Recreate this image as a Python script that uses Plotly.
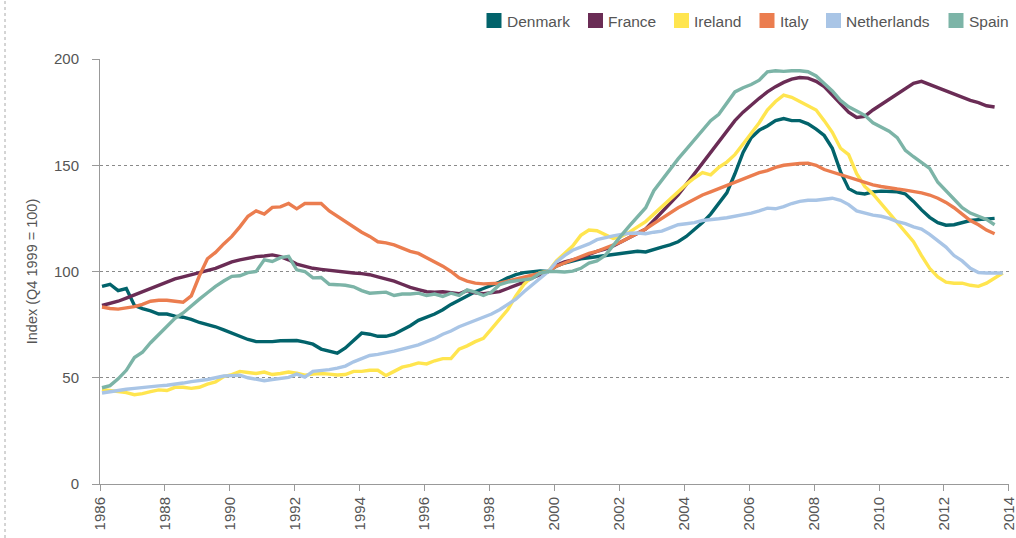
import pandas as pd
import plotly.graph_objects as go

# Quarterly house price index, Q4 1999 = 100 (1986Q1 onwards)
first_quarter = "1986Q1"

denmark = [93, 94, 91, 92,
           84, 82.5, 81.5, 80,
           80, 79, 78.5, 77.5,
           76, 75, 74, 72.5,
           71, 69.5, 68, 67,
           66.8, 67, 67.4, 67.5,
           67.5, 66.8, 65.8, 63.5,
           62.5, 61.6, 64, 67.5,
           71, 70.5, 69.5, 69.5,
           70.5, 72.5, 74.5, 77,
           78.5, 80, 82, 84.5,
           86.5, 88.5, 90.5, 92,
           93.5, 95, 97, 98.5,
           99.5, 100, 100.3, 100,
           102.5, 104, 105, 106,
           106.5, 107, 107.5, 108,
           108.5, 109, 109.5, 109.2,
           110.5, 111.5, 112.5, 114,
           116.5, 119.5, 123, 127,
           132, 137, 146, 156,
           163, 166.5, 168.5, 171,
           172, 171, 171, 169.5,
           167, 164, 158, 147,
           139, 137, 136.5, 137.5,
           137.8, 137.8, 137.5, 136.5,
           133, 129, 125.5, 123,
           121.8, 122, 123, 124,
           124.4, 124.5, 125]

france = [84, 85, 86, 87.5,
          89, 90.5, 92, 93.5,
          95, 96.5, 97.5, 98.5,
          99.5, 100.5, 101.5, 103,
          104.5, 105.5, 106.3, 107,
          107.3, 107.8, 107, 105.5,
          103.5, 102.5, 101.5, 101,
          100.5, 100, 99.5, 99.3,
          99, 98.5, 97.5, 96.5,
          95.5, 94, 92.5, 91.5,
          90.5, 90.3, 90.5, 90,
          89.5, 91, 90, 89.5,
          90, 90.5, 92, 93.5,
          95, 97, 98.5, 100,
          103, 104.5, 105.5, 106.5,
          108, 109.5, 110.5, 112,
          114, 116, 118, 120,
          124, 128, 132, 136,
          141, 146, 151, 156,
          161, 166, 171, 175,
          178.5, 181.5, 184.5, 187,
          189, 190.5, 191.3, 191,
          189.5, 187, 183, 179,
          175, 172.5, 173, 176,
          178.5, 181, 183.5, 186,
          188.5, 189.5, 188, 186.5,
          185, 183.5, 182, 180.5,
          179.5, 178, 177.4]

ireland = [44.5, 44, 43.5, 43,
           42, 42.5, 43.5, 44.3,
           44, 45.5, 45.5, 45,
           45.5, 47, 48, 50.5,
           51.5, 53, 52.5, 52,
           52.7, 51.5, 52, 52.7,
           52.2, 51.2, 51.7, 52,
           51.7, 51.3, 51.5, 53,
           53, 53.5, 53.5, 51,
           53, 55, 55.8, 57,
           56.5, 58, 59, 59,
           63.5, 65, 67, 68.5,
           73, 77.5, 82, 88.5,
           94, 97.5, 99.5, 100,
           105, 108.5, 112, 117,
           119.5, 119.2, 117.5, 115.5,
           116.5, 118.5, 121, 123.5,
           127, 130.5, 134, 137.5,
           141, 144, 146.5, 145.5,
           149, 151.5, 155, 160,
           165, 170, 176, 180,
           183, 182, 180, 178,
           176, 171, 165.5, 158,
           155, 146, 140, 136.5,
           132, 127, 123, 118.5,
           114, 107.5, 101.5, 97.5,
           95, 94.5, 94.5, 93.5,
           93, 94.5, 97, 99.3]

italy = [83.3, 82.6, 82.3, 82.8,
         83.5, 84.5, 86, 86.5,
         86.5, 86, 85.5, 88.5,
         98, 106, 109, 113,
         116.5, 121, 126, 128.5,
         127, 130.2, 130.4, 132,
         129.5, 132, 131.8, 132,
         128.5, 126, 123.5, 121,
         118.5, 116.5, 114, 113.5,
         112.5, 111, 109.5, 108.5,
         106.5, 104.5, 102.5, 100,
         97, 95.5, 94.5, 94.2,
         94.2, 94.5, 95.5, 96.5,
         97.5, 98.5, 99.2, 100,
         102.5, 104, 105.5, 107,
         108.5, 109.5, 111, 112.5,
         114, 116, 118, 120,
         122.5, 125, 127.5, 130,
         132, 134, 136, 137.5,
         139, 140.5, 142, 143.5,
         145, 146.5, 147.5, 149,
         150, 150.5, 150.8, 151,
         150, 148, 146.8, 145.5,
         144.5, 143, 142, 140.8,
         140, 139.3, 138.8, 138.3,
         137.7, 137, 136, 134.5,
         132.5, 130, 127, 124,
         122, 119.5, 117.8]

netherlands = [42.8, 43.5, 44.2, 44.6,
               45, 45.5, 45.8, 46.2,
               46.5, 46.8, 47.5, 48.2,
               48.6, 49.2, 50, 50.8,
               51, 51.2, 50, 49.3,
               48.6, 49.2, 49.5, 50.2,
               51.7, 50.3, 53, 53.3,
               53.8, 54.5, 55.5, 57.5,
               59.2, 60.5, 61, 61.6,
               62.5, 63.5, 64.5, 65.5,
               67, 68.5, 70.5, 72,
               74, 75.5, 77, 78.5,
               80, 82, 84.5, 87,
               90.5, 93.5, 96.5, 100,
               104.5, 107.5, 110, 111.5,
               113, 115, 116, 116.8,
               117.5, 118, 118.1, 117.8,
               118.5, 119, 120.5, 122,
               122.5, 123, 124, 124.6,
               124.8, 125.3, 126, 126.5,
               127.5, 128.5, 129.8, 129.5,
               130.5, 132, 133, 133.5,
               133.5, 134, 134.5, 133.5,
               131.5, 128.5, 127.5, 126.5,
               126, 125, 123.5, 122.5,
               121, 120, 117.5, 114.5,
               111.5, 107.5, 105, 101.5,
               99.5, 99.3, 99.3, 99.3]

spain = [45.3, 46.3, 49.5, 53.5,
         59.5, 62, 66.5, 70.5,
         74.5, 78, 80.5, 84,
         87, 90, 93, 95.5,
         97.7, 98, 99.5, 100,
         105.5, 104.7, 106.5, 107.1,
         100.8, 100, 97, 97.2,
         94, 93.8, 93.5, 92.8,
         91, 89.8, 90, 90.3,
         88.7, 89.4, 89.4, 89.8,
         88.7, 89.4, 88.3, 89.8,
         88.7, 91.4, 90.3, 88.7,
         90.3, 93.8, 95, 95.5,
         96.1, 96.6, 99.3, 100,
         100, 99.8, 100.2, 101.5,
         104, 105, 107.5, 112,
         117, 121.5, 125.5, 130,
         138, 143, 148, 153,
         157.5, 162, 167, 171,
         174, 179, 184.5, 186.5,
         188, 190, 194, 194.5,
         194.2, 194.5, 194.5, 194,
         192, 188.5, 185, 180.5,
         177.5, 175.5, 173.5, 170,
         168, 166, 163, 157,
         154, 151.5, 148.5, 142,
         138, 134.5, 130, 127.5,
         126, 124.5, 122]

series_names = ["Denmark", "France", "Ireland", "Italy", "Netherlands", "Spain"]
series_values = [denmark, france, ireland, italy, netherlands, spain]
series_colors = ["#02636B", "#6A2C55", "#FFE54F", "#EB7D4F", "#A9C5E6", "#7CB4A7"]

tick_years = list(range(1986, 2016, 2))
y_ticks = [0, 50, 100, 150, 200]

# ---- layout constants (pixels) ----
W, H = 1016, 538
ML, MR, MT, MB = 100, 7, 59, 54
PW, PH = W - ML - MR, H - MT - MB
legend_left_px = [486.5, 588, 674, 759.5, 826, 948.5]   # left edge of each swatch
legend_mid_px = 20.5
swatch = 15
grey = "#555555"


def px_x(p):
    return (p - ML) / PW


def px_y(p):
    return (H - MB - p) / PH


def quarter_positions(n):
    periods = pd.period_range(first_quarter, periods=n, freq="Q")
    return [p.start_time + (p.end_time - p.start_time) / 4 for p in periods]


fig = go.Figure()
for name, vals, col in zip(series_names, series_values, series_colors):
    fig.add_trace(go.Scatter(
        x=quarter_positions(len(vals)), y=vals, mode="lines", name=name,
        line=dict(color=col, width=3.4), showlegend=False,
        hovertemplate="%{x|%Y Q%q}: %{y}<extra>" + name + "</extra>"))

shapes = [dict(type="line", xref="paper", yref="paper",
               x0=px_x(5), x1=px_x(5), y0=px_y(H), y1=px_y(0),
               line=dict(color="#aaaaaa", width=1, dash="dot"))]
annotations = []
for name, col, left in zip(series_names, series_colors, legend_left_px):
    shapes.append(dict(type="rect", xref="paper", yref="paper",
                       x0=px_x(left), x1=px_x(left + swatch),
                       y0=px_y(legend_mid_px + swatch / 2), y1=px_y(legend_mid_px - swatch / 2),
                       fillcolor=col, line=dict(width=0)))
    annotations.append(dict(text=name, xref="paper", yref="paper",
                            x=px_x(left + swatch + 3), y=px_y(legend_mid_px + 0.5),
                            xanchor="left", yanchor="middle", showarrow=False,
                            font=dict(size=15.5, color=grey)))

fig.update_layout(
    width=W, height=H,
    margin=dict(l=ML, r=MR, t=MT, b=MB, autoexpand=False),
    paper_bgcolor="white", plot_bgcolor="white",
    font=dict(family="Liberation Sans, Arial, sans-serif", color=grey, size=14),
    showlegend=False,
    xaxis=dict(
        type="date",
        range=["1986-01-01", "2014-01-02"],
        tickvals=[f"{y}-01-01" for y in tick_years],
        ticktext=[str(y) for y in tick_years],
        tickangle=-90, tickfont=dict(size=15, color=grey),
        ticklabeloverflow="allow",
        showgrid=False, showline=True, linecolor="#999999", linewidth=1,
        ticks="outside", ticklen=6, tickcolor="#999999", zeroline=False,
        automargin=False),
    yaxis=dict(
        range=[0, 200], tickvals=y_ticks,
        tickfont=dict(size=15, color=grey), ticklabelstandoff=10,
        title=dict(text="Index (Q4 1999 = 100)", font=dict(size=14.5, color=grey), standoff=12),
        showgrid=True, gridcolor="#8a8a8a", griddash="dot", gridwidth=1,
        showline=True, linecolor="#999999", linewidth=1,
        ticks="outside", ticklen=7, tickcolor="#999999", zeroline=False,
        automargin=False),
    shapes=shapes,
    annotations=annotations,
)

fig.write_html("out.html",
               config={"displayModeBar": False},
               post_script="document.body.style.margin='0';document.body.style.padding='0';")
